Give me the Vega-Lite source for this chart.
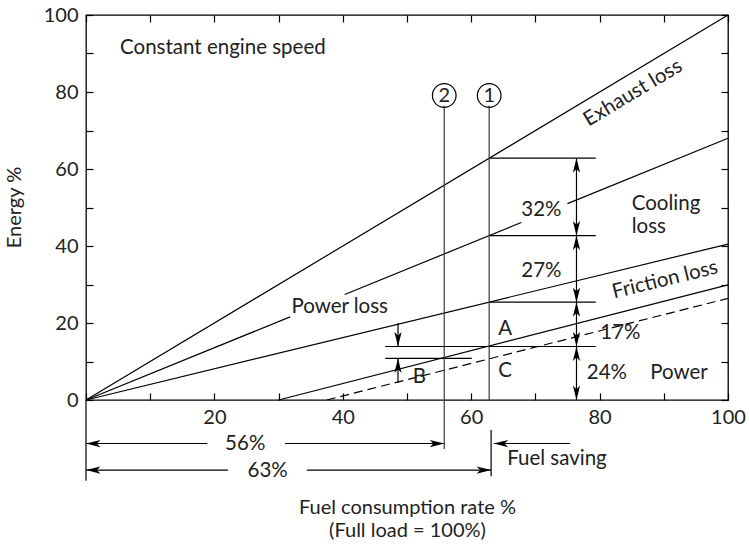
{
  "$schema": "https://vega.github.io/schema/vega-lite/v6.json",
  "width": 642,
  "height": 385,
  "autosize": {"type": "none"},
  "padding": {"left": 86, "top": 15, "right": 21, "bottom": 145},
  "background": "white",
  "config": {
    "font": "Lato",
    "view": {"stroke": "black", "strokeWidth": 1.3},
    "axis": {
      "grid": false,
      "domain": false,
      "tickColor": "black",
      "tickWidth": 1.2,
      "tickSize": -7,
      "labelFont": "Lato",
      "labelFontSize": 20,
      "labelColor": "#222",
      "labelFlush": false,
      "labelOverlap": false,
      "titleFont": "Lato",
      "titleFontSize": 20,
      "titleFontWeight": "normal",
      "titleColor": "#222"
    },
    "text": {"font": "Lato", "fontSize": 20.5, "color": "#222"}
  },
  "datasets": {
    "solid": [
      {"x": 0, "y": 0, "x2": 100, "y2": 100},
      {"x": 0, "y": 0, "x2": 31.8, "y2": 21.6},
      {"x": 40.3, "y": 27.4, "x2": 67.8, "y2": 46.1},
      {"x": 75, "y": 51, "x2": 100, "y2": 68},
      {"x": 0, "y": 0, "x2": 100, "y2": 40.5},
      {"x": 30, "y": 0, "x2": 100, "y2": 29.9},
      {"x": 62.8, "y": 62.8, "x2": 79.4, "y2": 62.8},
      {"x": 62.8, "y": 42.7, "x2": 79.4, "y2": 42.7},
      {"x": 62.8, "y": 25.4, "x2": 79.4, "y2": 25.4},
      {"x": 46.6, "y": 13.9, "x2": 79.4, "y2": 13.9},
      {"x": 46.6, "y": 10.8, "x2": 60.1, "y2": 10.8},
      {"x": 76.4, "y": 62.8, "x2": 76.4, "y2": 0},
      {"x": 48.6, "y": 20, "x2": 48.6, "y2": 13.9},
      {"x": 48.6, "y": 4.5, "x2": 48.6, "y2": 10.8},
      {"x": 0, "y": 0, "x2": 0, "y2": -21},
      {"x": 63.1, "y": -7.8, "x2": 63.1, "y2": -19.8},
      {"x": 0, "y": -11.3, "x2": 18.9, "y2": -11.3},
      {"x": 31, "y": -11.3, "x2": 55.8, "y2": -11.3},
      {"x": 0, "y": -18.2, "x2": 22.1, "y2": -18.2},
      {"x": 34.4, "y": -18.2, "x2": 63.1, "y2": -18.2},
      {"x": 63.5, "y": -11.3, "x2": 75.4, "y2": -11.3}
    ],
    "dashed": [
      {"x": 37.5, "y": 0, "x2": 100, "y2": 26.4}
    ],
    "gray": [
      {"x": 62.8, "y": 76.4, "x2": 62.8, "y2": 0},
      {"x": 55.8, "y": 76.4, "x2": 55.8, "y2": -12.7}
    ],
    "heads": [
      {"x": 76.4, "y": 62.8, "dir": "up"},
      {"x": 76.4, "y": 42.7, "dir": "down"},
      {"x": 76.4, "y": 42.7, "dir": "up"},
      {"x": 76.4, "y": 25.4, "dir": "down"},
      {"x": 76.4, "y": 25.4, "dir": "up"},
      {"x": 76.4, "y": 13.9, "dir": "down"},
      {"x": 76.4, "y": 13.9, "dir": "up"},
      {"x": 76.4, "y": 0, "dir": "down"},
      {"x": 48.6, "y": 13.9, "dir": "down"},
      {"x": 48.6, "y": 10.8, "dir": "up"},
      {"x": 0, "y": -11.3, "dir": "left"},
      {"x": 55.8, "y": -11.3, "dir": "right"},
      {"x": 0, "y": -18.2, "dir": "left"},
      {"x": 63.1, "y": -18.2, "dir": "right"},
      {"x": 63.5, "y": -11.3, "dir": "left"}
    ],
    "circles": [
      {"x": 55.8, "y": 79.1, "label": "2"},
      {"x": 62.8, "y": 79.1, "label": "1"}
    ],
    "textsLeft": [
      {"x": 5.3, "y": 89.9, "label": "Constant engine speed"},
      {"x": 32.0, "y": 22.7, "label": "Power loss"},
      {"x": 67.8, "y": 47.8, "label": "32%"},
      {"x": 67.8, "y": 32.0, "label": "27%"},
      {"x": 85.0, "y": 49.4, "label": "Cooling"},
      {"x": 85.0, "y": 43.5, "label": "loss"},
      {"x": 80.1, "y": 15.8, "label": "17%"},
      {"x": 78.0, "y": 5.45, "label": "24%"},
      {"x": 87.9, "y": 5.45, "label": "Power"},
      {"x": 64.2, "y": 16.9, "label": "A"},
      {"x": 64.2, "y": 6.05, "label": "C"},
      {"x": 50.9, "y": 4.3, "label": "B"},
      {"x": 65.6, "y": -16.9, "label": "Fuel saving"}
    ],
    "textsCenter": [
      {"x": 24.8, "y": -13.0, "label": "56%"},
      {"x": 28.3, "y": -19.9, "label": "63%"}
    ],
    "rotExhaust": [
      {"x": 85.2, "y": 79.7, "label": "Exhaust loss"}
    ],
    "rotFriction": [
      {"x": 90.2, "y": 31.2, "label": "Friction loss"}
    ]
  },
  "resolve": {"axis": {"x": "independent", "y": "independent"}},
  "layer": [
    {
      "data": {"name": "solid"},
      "mark": {"type": "rule", "stroke": "black", "strokeWidth": 1.2},
      "encoding": {
        "x": {"field": "x", "type": "quantitative",
              "scale": {"domain": [0, 100], "nice": false, "zero": false},
              "axis": {"orient": "bottom", "values": [0,10,20,30,40,50,60,70,80,90,100],
                       "labelExpr": "datum.value % 20 === 0 && datum.value > 0 ? datum.label : ''",
                       "labelPadding": 14,
                       "title": ["Fuel consumption rate %", "(Full load = 100%)"],
                       "titleY": 97, "titleX": 321, "titleBaseline": "top", "titleLineHeight": 23}},
        "y": {"field": "y", "type": "quantitative",
              "scale": {"domain": [0, 100], "nice": false, "zero": false},
              "axis": {"orient": "left", "values": [0,10,20,30,40,50,60,70,80,90,100],
                       "labelExpr": "datum.value % 20 === 0 ? datum.label : ''",
                       "labelPadding": 15,
                       "title": "Energy %", "titleX": -66, "titleY": 192, "titleBaseline": "alphabetic", "titleAngle": 270}},
        "x2": {"field": "x2"},
        "y2": {"field": "y2"}
      }
    },
    {
      "data": {"name": "dashed"},
      "mark": {"type": "rule", "stroke": "black", "strokeWidth": 1.2, "strokeDash": [9, 5]},
      "encoding": {
        "x": {"field": "x", "type": "quantitative",
              "scale": {"domain": [0, 100], "nice": false, "zero": false},
              "axis": {"orient": "top", "values": [0,10,20,30,40,50,60,70,80,90,100], "labels": false, "title": null}},
        "y": {"field": "y", "type": "quantitative",
              "scale": {"domain": [0, 100], "nice": false, "zero": false},
              "axis": {"orient": "right", "values": [0,10,20,30,40,50,60,70,80,90,100], "labels": false, "title": null}},
        "x2": {"field": "x2"},
        "y2": {"field": "y2"}
      }
    },
    {
      "data": {"name": "gray"},
      "mark": {"type": "rule", "stroke": "#3a3a3a", "strokeWidth": 1.2},
      "encoding": {
        "x": {"field": "x", "type": "quantitative", "axis": null},
        "y": {"field": "y", "type": "quantitative", "axis": null},
        "x2": {"field": "x2"},
        "y2": {"field": "y2"}
      }
    },
    {
      "data": {"name": "heads"},
      "mark": {"type": "point", "filled": true, "fill": "black", "stroke": null, "opacity": 1, "size": 210},
      "encoding": {
        "x": {"field": "x", "type": "quantitative", "axis": null},
        "y": {"field": "y", "type": "quantitative", "axis": null},
        "shape": {"field": "dir", "type": "nominal", "legend": null,
                  "scale": {"domain": ["up", "down", "left", "right"],
                            "range": ["M0,0L-0.5,2L0,1.5L0.5,2Z", "M0,0L-0.5,-2L0,-1.5L0.5,-2Z", "M0,0L2,-0.5L1.5,0L2,0.5Z", "M0,0L-2,-0.5L-1.5,0L-2,0.5Z"]}}
      }
    },
    {
      "data": {"name": "circles"},
      "mark": {"type": "point", "shape": "circle", "filled": false, "stroke": "black", "strokeWidth": 1.2, "opacity": 1, "size": 560},
      "encoding": {
        "x": {"field": "x", "type": "quantitative", "axis": null},
        "y": {"field": "y", "type": "quantitative", "axis": null}
      }
    },
    {
      "data": {"name": "circles"},
      "mark": {"type": "text", "align": "center", "baseline": "middle", "fontSize": 20, "dy": 1},
      "encoding": {
        "x": {"field": "x", "type": "quantitative", "axis": null},
        "y": {"field": "y", "type": "quantitative", "axis": null},
        "text": {"field": "label"}
      }
    },
    {
      "data": {"name": "textsLeft"},
      "mark": {"type": "text", "align": "left", "baseline": "alphabetic"},
      "encoding": {
        "x": {"field": "x", "type": "quantitative", "axis": null},
        "y": {"field": "y", "type": "quantitative", "axis": null},
        "text": {"field": "label"}
      }
    },
    {
      "data": {"name": "textsCenter"},
      "mark": {"type": "text", "align": "center", "baseline": "alphabetic"},
      "encoding": {
        "x": {"field": "x", "type": "quantitative", "axis": null},
        "y": {"field": "y", "type": "quantitative", "axis": null},
        "text": {"field": "label"}
      }
    },
    {
      "data": {"name": "rotExhaust"},
      "mark": {"type": "text", "align": "center", "baseline": "middle", "angle": 329},
      "encoding": {
        "x": {"field": "x", "type": "quantitative", "axis": null},
        "y": {"field": "y", "type": "quantitative", "axis": null},
        "text": {"field": "label"}
      }
    },
    {
      "data": {"name": "rotFriction"},
      "mark": {"type": "text", "align": "center", "baseline": "middle", "angle": 346.4},
      "encoding": {
        "x": {"field": "x", "type": "quantitative", "axis": null},
        "y": {"field": "y", "type": "quantitative", "axis": null},
        "text": {"field": "label"}
      }
    }
  ]
}
